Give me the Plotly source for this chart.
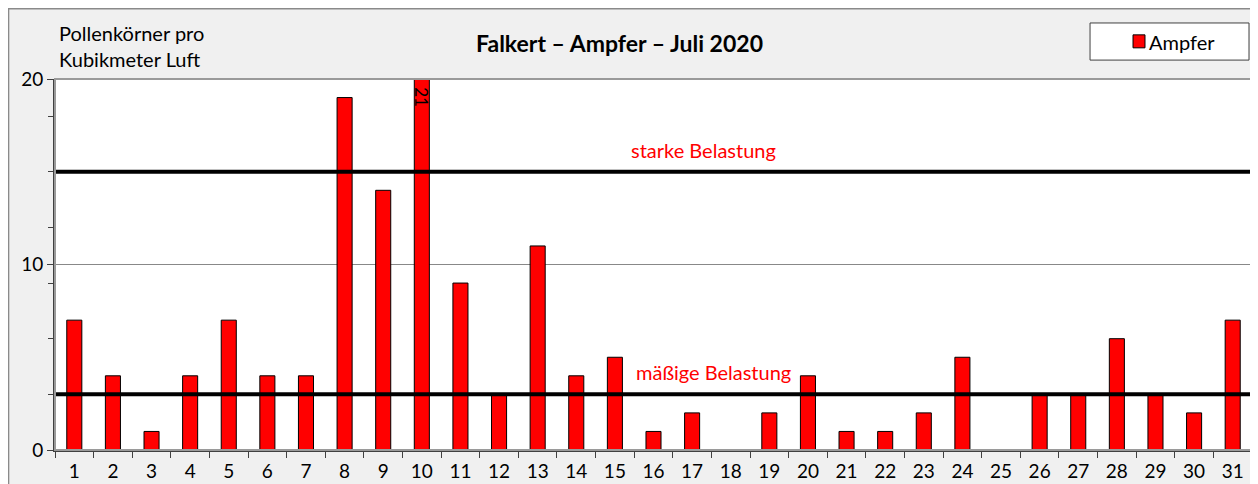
import plotly.graph_objects as go

# daily pollen counts, Falkert, July 2020
days = [str(d) for d in range(1, 32)]
ampfer = [7, 4, 1, 4, 7, 4, 4, 19, 14, 21, 9, 3, 11, 4, 5, 1, 2, 0, 2, 4,
          1, 1, 2, 5, 0, 3, 3, 6, 3, 2, 7]

# load thresholds
levels = [("mäßige Belastung", 3), ("starke Belastung", 15)]
y_max = 20

FONT = "Lato, Carlito, Noto Sans, sans-serif"
RED = "#ff0000"

fig = go.Figure()
fig.add_trace(go.Bar(
    x=days, y=ampfer, name="Ampfer",
    marker=dict(color=RED, line=dict(color="black", width=1)),
    showlegend=False,
))

shapes = []
annotations = []

# threshold lines + labels
label_pos = {"mäßige Belastung": 0.550, "starke Belastung": 0.542}
for text, val in levels:
    shapes.append(dict(type="line", xref="paper", yref="y", x0=0, x1=1,
                       y0=val, y1=val, line=dict(color="black", width=4),
                       layer="above"))
    annotations.append(dict(text=text, xref="paper", yref="y",
                            x=label_pos[text], y=val, yshift=8,
                            yanchor="bottom", showarrow=False,
                            font=dict(color=RED, size=20, family=FONT)))

# value label for the clipped bar (category axis -> use index)
for i, v in enumerate(ampfer):
    if v > y_max:
        annotations.append(dict(text=str(v), x=i, y=y_max, xref="x", yref="y",
                                textangle=90, yanchor="top", yshift=-6,
                                showarrow=False,
                                font=dict(color="black", size=17, family=FONT)))

# title and y-axis caption
annotations.append(dict(text="<b>Falkert – Ampfer – Juli 2020</b>",
                        xref="paper", yref="paper", x=0.472, y=1.097,
                        yanchor="middle", showarrow=False,
                        font=dict(size=23, color="black", family=FONT)))
annotations.append(dict(text="Pollenkörner pro<br>Kubikmeter Luft",
                        xref="paper", yref="paper", x=0.0017, y=1.089,
                        xanchor="left", yanchor="middle", align="left",
                        showarrow=False,
                        font=dict(size=20, color="black", family=FONT)))

# outer chart frame and plot area border
shapes.append(dict(type="rect", xref="paper", yref="paper",
                   x0=-0.0388, x1=1.2, y0=-0.3, y1=1.1895,
                   line=dict(color="#8a8a8a", width=1.5), layer="below"))
shapes.append(dict(type="rect", xref="paper", yref="paper",
                   x0=0, x1=1, y0=0, y1=1,
                   line=dict(color="#9a9a9a", width=2), layer="above"))

# hand-drawn legend box
shapes.append(dict(type="rect", xref="paper", yref="paper",
                   x0=0.8647, x1=0.9975, y0=1.051, y1=1.151,
                   fillcolor="white", line=dict(color="#404040", width=1)))
shapes.append(dict(type="rect", xref="paper", yref="paper",
                   x0=0.9006, x1=0.9106, y0=1.084, y1=1.119,
                   fillcolor=RED, line=dict(color="black", width=1)))
annotations.append(dict(text="Ampfer", xref="paper", yref="paper",
                        x=0.9125, y=1.101, xanchor="left", yanchor="middle",
                        showarrow=False,
                        font=dict(size=20, color="black", family=FONT)))

# page body has an 8px margin, so the figure is sized to fit the window
fig.update_layout(
    width=1250, height=476,
    margin=dict(l=47, r=6, t=71, b=34),
    paper_bgcolor="#f0f0f0",
    plot_bgcolor="white",
    font=dict(family=FONT, size=19, color="black"),
    bargap=0.61,
    shapes=shapes,
    annotations=annotations,
    xaxis=dict(
        type="category", tickson="boundaries", ticks="outside", ticklen=6,
        tickcolor="#404040", showline=True, linecolor="#404040", linewidth=2,
        showgrid=False, tickfont=dict(size=19), fixedrange=True,
        ticklabelstandoff=3, automargin=False,
    ),
    yaxis=dict(
        range=[0, y_max], dtick=10, ticks="outside", ticklen=6,
        tickcolor="#404040", showline=True, linecolor="#404040", linewidth=2,
        showgrid=True, gridcolor="#888888", gridwidth=1, zeroline=False,
        tickfont=dict(size=19), automargin=False,
        minor=dict(tickvals=[3, 6, 9, 12, 15, 18], ticks="outside",
                   ticklen=5, tickcolor="#404040", showgrid=False),
    ),
)

fig.write_html("out.html")
